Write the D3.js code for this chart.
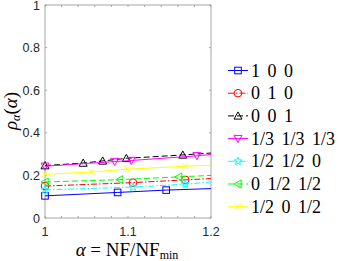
<!DOCTYPE html>
<html lang="en">
<head>
<meta charset="UTF-8">
<title>rho alpha</title>
<script src="https://d3js.org/d3.v7.min.js"></script>
<style>
    body { margin: 0; background: #fff; }
    .tick-label { font-family: "Liberation Sans", Arial, sans-serif; font-size: 12.5px; fill: #262626; }
    .math { font-family: "Liberation Serif", "DejaVu Serif", serif; fill: #000; }
</style>
</head>
<body>
<svg width="346" height="261"></svg>
<script>
    // weights of the three objectives
    const labels = ["1 0 0", "0 1 0", "0 0 1", "1/3 1/3 1/3", "1/2 1/2 0", "0 1/2 1/2", "1/2 0 1/2"];
    const colors = ["#0000ff", "#ff0000", "#000000", "#ff00ff", "#00ffff", "#00ff00", "#ffff00"];
    const dashes = [null, "6,2,1.5,2", "6,3", null, "6,2,1.5,2", "6,3", null];
    const markers = ["square", "circle", "triUp", "triDown", "star", "triLeft", "cross"];

    // alpha values of the marked points, and rho values at them
    const alphas = [
        [1, 1.0875, 1.146, 1.2],
        [1, 1.106, 1.169, 1.2],
        [1, 1.046, 1.0695, 1.098, 1.166, 1.2],
        [1, 1.084, 1.104, 1.183, 1.2],
        [1, 1.106, 1.169, 1.2],
        [1, 1.09, 1.161, 1.2],
        [1, 1.056, 1.099, 1.169, 1.2]
    ];
    const rhos = [
        [0.104, 0.12, 0.131, 0.138],
        [0.15, 0.166, 0.179, 0.185],
        [0.246, 0.258, 0.268, 0.28, 0.296, 0.305],
        [0.243, 0.265, 0.27, 0.292, 0.298],
        [0.132, 0.145, 0.159, 0.169],
        [0.169, 0.18, 0.193, 0.2],
        [0.205, 0.216, 0.229, 0.243, 0.248]
    ];

    const xTicks = [1, 1.1, 1.2];
    const yTicks = [0, 0.2, 0.4, 0.6, 0.8, 1];

    const svg = d3.select("svg");
    const padL = 45, padR = 211, padT = 5, padB = 218;

    const x = d3.scaleLinear().domain([1, 1.2]).range([padL, padR]);
    const y = d3.scaleLinear().domain([0, 1]).range([padB, padT]);

    // box
    svg.append("rect")
        .attr("x", padL).attr("y", padT)
        .attr("width", padR - padL).attr("height", padB - padT)
        .attr("fill", "none").attr("stroke", "#a6a6a6").attr("stroke-width", 1);

    // ticks, inward on all sides
    const minorX = d3.range(0, 11).map(i => 1 + i * 0.02);
    minorX.forEach(v => {
        svg.append("line").attr("x1", x(v)).attr("x2", x(v))
            .attr("y1", padB).attr("y2", padB - 2).attr("stroke", "#a6a6a6");
        svg.append("line").attr("x1", x(v)).attr("x2", x(v))
            .attr("y1", padT).attr("y2", padT + 2).attr("stroke", "#a6a6a6");
    });
    yTicks.forEach(v => {
        svg.append("line").attr("x1", padL).attr("x2", padL + 2)
            .attr("y1", y(v)).attr("y2", y(v)).attr("stroke", "#a6a6a6");
        svg.append("line").attr("x1", padR).attr("x2", padR - 2)
            .attr("y1", y(v)).attr("y2", y(v)).attr("stroke", "#a6a6a6");
    });

    xTicks.forEach(v => {
        svg.append("text").attr("class", "tick-label")
            .attr("x", x(v)).attr("y", 235.5)
            .attr("text-anchor", "middle")
            .text(v);
    });
    yTicks.forEach(v => {
        svg.append("text").attr("class", "tick-label")
            .attr("x", 40).attr("y", y(v) + 4.5)
            .attr("text-anchor", "end")
            .text(v);
    });

    // marker drawing
    function drawMarker(g, type, cx, cy, color) {
        const s = 3.3;
        if (type === "square") {
            g.append("rect").attr("x", cx - s).attr("y", cy - s)
                .attr("width", 2 * s).attr("height", 2 * s)
                .attr("fill", "none").attr("stroke", color);
        } else if (type === "circle") {
            g.append("circle").attr("cx", cx).attr("cy", cy).attr("r", 3.8)
                .attr("fill", "none").attr("stroke", color);
        } else if (type === "triUp" || type === "triDown" || type === "triLeft") {
            const r = 4;
            let pts;
            if (type === "triUp") pts = [[cx, cy - r], [cx - r, cy + r * 0.8], [cx + r, cy + r * 0.8]];
            else if (type === "triDown") pts = [[cx, cy + r], [cx - r, cy - r * 0.8], [cx + r, cy - r * 0.8]];
            else pts = [[cx - r, cy], [cx + r * 0.8, cy - r], [cx + r * 0.8, cy + r]];
            g.append("polygon").attr("points", pts.map(p => p.join(",")).join(" "))
                .attr("fill", "none").attr("stroke", color);
        } else if (type === "star") {
            const pts = [];
            for (let i = 0; i < 10; i++) {
                const a = -Math.PI / 2 + i * Math.PI / 5;
                const r = i % 2 === 0 ? 4.2 : 1.8;
                pts.push([cx + r * Math.cos(a), cy + r * Math.sin(a)]);
            }
            g.append("polygon").attr("points", pts.map(p => p.join(",")).join(" "))
                .attr("fill", "none").attr("stroke", color);
        } else if (type === "cross") {
            const r = 3;
            g.append("path")
                .attr("d", `M${cx - r},${cy - r}L${cx + r},${cy + r}M${cx - r},${cy + r}L${cx + r},${cy - r}`)
                .attr("stroke", color);
        }
    }

    const line = d3.line().x(d => x(d[0])).y(d => y(d[1]));

    labels.forEach((lab, i) => {
        const pts = alphas[i].map((a, j) => [a, rhos[i][j]]);
        const g = svg.append("g");
        g.append("path").attr("d", line(pts))
            .attr("fill", "none").attr("stroke", colors[i]).attr("stroke-width", 1)
            .attr("stroke-dasharray", dashes[i]);
        pts.slice(0, -1).forEach(p => drawMarker(g, markers[i], x(p[0]), y(p[1]), colors[i]));
    });

    // legend
    const legY0 = 70.5, legStep = 22.7;
    labels.forEach((lab, i) => {
        const ly = legY0 + i * legStep;
        const g = svg.append("g");
        g.append("line").attr("x1", 228).attr("x2", 248).attr("y1", ly).attr("y2", ly)
            .attr("stroke", colors[i]).attr("stroke-dasharray", dashes[i]);
        drawMarker(g, markers[i], 238, ly, colors[i]);
        g.append("text").attr("class", "math")
            .attr("x", 251).attr("y", ly + 6)
            .style("font-size", "18px").style("word-spacing", "3px")
            .text(lab);
    });

    // axis labels
    const xl = svg.append("text").attr("class", "math")
        .attr("x", 127).attr("y", 256).attr("text-anchor", "middle")
        .style("font-size", "19px");
    xl.append("tspan").style("font-style", "italic").text("α");
    xl.append("tspan").text(" = NF/NF");
    xl.append("tspan").attr("dy", 3).style("font-size", "12px").text("min");

    const yl = svg.append("text").attr("class", "math")
        .attr("transform", "translate(17,111) rotate(-90)")
        .attr("text-anchor", "middle")
        .style("font-size", "19px");
    yl.append("tspan").style("font-style", "italic").text("ρ");
    yl.append("tspan").attr("dy", 3).style("font-size", "12px").style("font-style", "italic").text("α");
    yl.append("tspan").attr("dy", -3).text("(");
    yl.append("tspan").style("font-style", "italic").text("α");
    yl.append("tspan").text(")");
</script>
</body>
</html>
